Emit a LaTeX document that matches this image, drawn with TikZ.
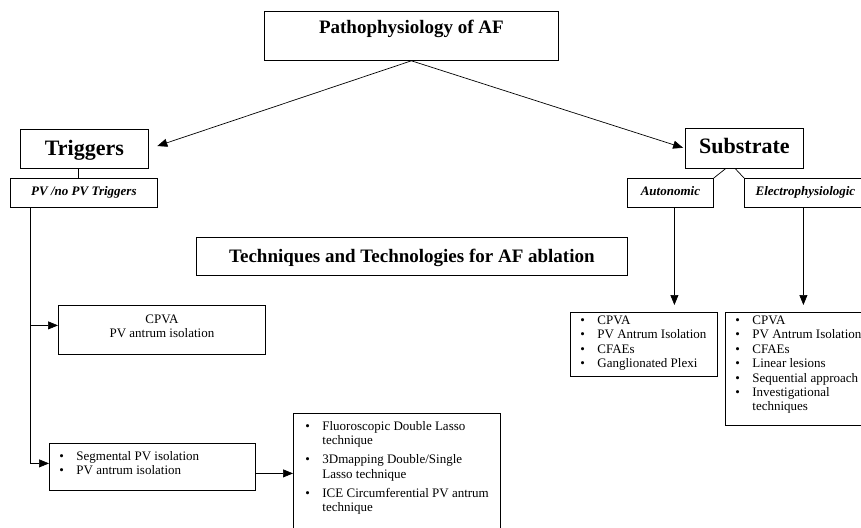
\documentclass[tikz,border=0pt]{standalone}
\usepackage{fontspec}
\setmainfont{Liberation Serif}
\usetikzlibrary{arrows.meta}

% text set in a fixed box: width, height, first baseline, format, text
\newcommand{\boxtext}[5]{\parbox[c][#2][t]{#1}{#4\rule{0pt}{#3}#5}}
\newcommand{\itm}{\hspace*{10pt}\makebox[17pt][l]{\textbullet}}
\newcommand{\cnt}{\hspace*{27pt}}
\newcommand{\headfont}{\fontsize{19}{22}\selectfont\bfseries\centering}
\newcommand{\bigfont}{\fontsize{22}{26}\selectfont\bfseries\centering}
\newcommand{\subfont}{\fontsize{13}{15}\selectfont\bfseries\itshape\centering}
\newcommand{\listfont}{\fontsize{13}{14.4}\selectfont\raggedright}

\tikzset{
  box/.style={draw, line width=0.8pt, inner sep=0pt, anchor=north west},
  arr/.style={-{Triangle[length=10pt,width=8pt]}, line width=0.7pt},
  link/.style={line width=0.7pt}
}

\begin{document}
\begin{tikzpicture}[x=1pt, y=-1pt]
    \useasboundingbox (0,0) rectangle (861,527);

    % top of the tree
    \node[box] (title) at (264,11)
        {\boxtext{294pt}{49pt}{22.5pt}{\headfont}{Pathophysiology of AF}};
    \node[box] (trig) at (20,129)
        {\boxtext{128pt}{39pt}{26pt}{\bigfont}{Triggers}};
    \node[box] (sub) at (685,128)
        {\boxtext{118pt}{40pt}{25pt}{\bigfont}{Substrate}};

    % sub headings
    \node[box] (pv) at (10,178)
        {\boxtext{147pt}{29pt}{17.5pt}{\subfont}{PV /no PV Triggers}};
    \node[box] (auto) at (627,178)
        {\boxtext{86pt}{29pt}{17.5pt}{\subfont}{Autonomic}};
    \node[box] (elec) at (744,178)
        {\boxtext{122pt}{29pt}{17.5pt}{\subfont}{Electrophysiologic}};

    \node[box] (tech) at (196,237)
        {\boxtext{431pt}{38pt}{25pt}{\headfont}{Techniques and Technologies for AF ablation}};

    % trigger side
    \node[box] (cpva) at (58,305)
        {\boxtext{207pt}{49pt}{18pt}{\fontsize{13}{14}\selectfont\centering}{CPVA\\PV antrum isolation}};
    \node[box] (seg) at (49,443)
        {\boxtext{206pt}{47pt}{17pt}{\listfont}{\itm Segmental PV isolation\\ \itm PV antrum isolation}};
    \node[box] (lasso) at (293,413)
        {\boxtext{207pt}{130pt}{17pt}{\listfont}{%
            \hspace*{2pt}\itm Fluoroscopic Double Lasso\\ \hspace*{2pt}\cnt technique\\[4.5pt]
            \hspace*{2pt}\itm 3Dmapping Double/Single\\ \hspace*{2pt}\cnt Lasso technique\\[4.5pt]
            \hspace*{2pt}\itm ICE Circumferential PV antrum\\ \hspace*{2pt}\cnt technique}};

    % substrate side
    \node[box] (al) at (570,312)
        {\boxtext{147pt}{64pt}{12pt}{\listfont}{%
            \itm CPVA\\ \itm PV Antrum Isolation\\ \itm CFAEs\\ \itm Ganglionated Plexi}};
    \node[box] (el) at (725,312)
        {\boxtext{150pt}{113pt}{12pt}{\listfont}{%
            \itm CPVA\\ \itm PV Antrum Isolation\\ \itm CFAEs\\ \itm Linear lesions\\
            \itm Sequential approach\\ \itm Investigational\\ \cnt techniques}};

    % connectors
    \draw[arr, shorten >=9pt] (title.south) -- (trig.east);
    \draw[arr, shorten >=2pt] (title.south) -- (sub.west);
    \draw[link] ([xshift=-6pt]trig.south) -- ([xshift=-6pt]trig.south |- pv.north);
    \draw[link] ([xshift=-19pt]sub.south) -- (auto.north east);
    \draw[link] ([xshift=-9pt]sub.south) -- (elec.north west);

    \coordinate (spine) at ([xshift=20pt]pv.south west);
    \coordinate (cin) at ([yshift=4.5pt]cpva.west);
    \coordinate (sin) at ([yshift=3.5pt]seg.west);
    \coordinate (sout) at ([yshift=-6.5pt]seg.east);
    \draw[arr] (spine) |- (sin);
    \draw[arr] (spine |- cin) -- (cin);
    \draw[arr] (sout) -- (sout -| lasso.west);

    \draw[arr, shorten >=7pt] ([xshift=4pt]auto.south) -- ([xshift=4pt]auto.south |- al.north);
    \draw[arr, shorten >=7pt] ([xshift=-2pt]elec.south) -- ([xshift=-2pt]elec.south |- el.north);
\end{tikzpicture}
\end{document}
